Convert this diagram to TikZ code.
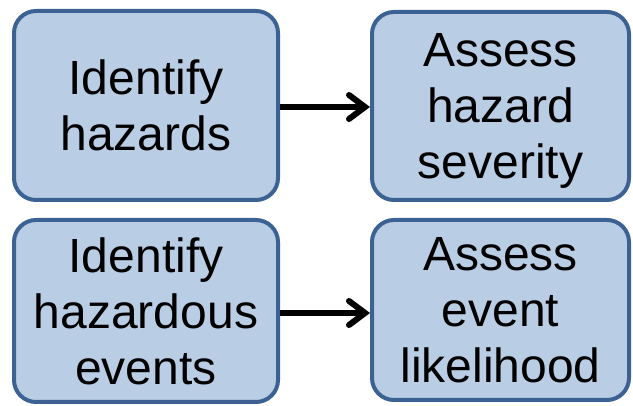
\documentclass[tikz,border=0pt]{standalone}
\usepackage{fontspec}
\setmainfont{Liberation Sans}
\usetikzlibrary{arrows.meta}
\definecolor{boxfill}{HTML}{B9CDE5}
\definecolor{boxline}{HTML}{3C6294}
\begin{document}
\begin{tikzpicture}[x=1pt,y=-1pt,
    task/.style={draw=boxline,fill=boxfill,line width=4pt,rounded corners=22pt,
      align=center,inner sep=0pt,text depth=0pt,font=\fontsize{48}{56}\selectfont},
    flow/.style={line width=6pt,-{Straight Barb[length=16pt,width=24pt,line cap=round]}}]
  \useasboundingbox (0,0) rectangle (633,406);
  \node[task,minimum width=264pt,minimum height=189pt] (idhaz) at (146,105.5)
    {Identify\\hazards};
  \node[task,minimum width=257pt,minimum height=188pt] (sev) at (500.5,106)
    {Assess\\hazard\\severity};
  \node[task,minimum width=264pt,minimum height=182pt] (idev) at (146,311)
    {Identify\\hazardous\\events};
  \node[task,minimum width=257pt,minimum height=180pt] (lik) at (500.5,310)
    {Assess\\event\\likelihood};
  \begin{scope}[flow]
    \draw (idhaz.east |- 0,107) to (sev.west |- 0,107);
    \draw (idev.east |- 0,313) to (lik.west |- 0,313);
  \end{scope}
\end{tikzpicture}
\end{document}
